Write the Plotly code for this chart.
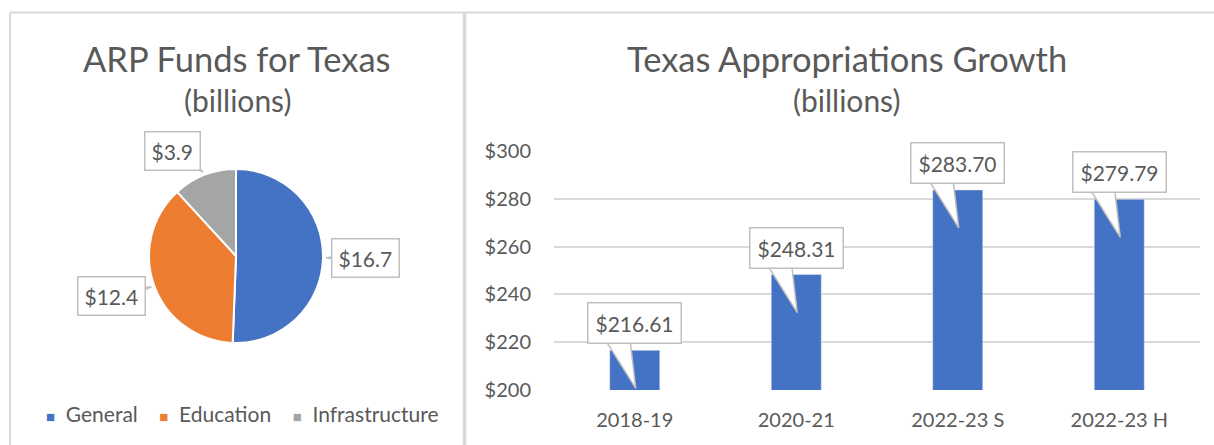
import math
import plotly.graph_objects as go

W, H = 1214, 445

# ---- data ----
pie_labels = ["General", "Education", "Infrastructure"]
pie_values = [16.7, 12.4, 3.9]
pie_text = ["$16.7", "$12.4", "$3.9"]
pie_colors = ["#4472C4", "#ED7D31", "#A5A5A5"]

bar_categories = ["2018-19", "2020-21", "2022-23 S", "2022-23 H"]
bar_values = [216.61, 248.31, 283.70, 279.79]
bar_text = ["$216.61", "$248.31", "$283.70", "$279.79"]
y_ticks = [200, 220, 240, 260, 280, 300]
y_ticktext = ["$200", "$220", "$240", "$260", "$280", "$300"]

FONT = "Lato"
GRAY = "#595959"
BORDER = "#d9d9d9"
CALLOUT = "#bfbfbf"

# pie geometry (pixels)
pcx, pcy, pr = 236, 256, 87

fig = go.Figure()
fig.add_trace(go.Pie(
    labels=pie_labels, values=pie_values, sort=False, direction="clockwise",
    rotation=0, textinfo="none", hoverinfo="label+value",
    marker=dict(colors=pie_colors, line=dict(color="white", width=2)),
    domain=dict(x=[(pcx - pr) / W, (pcx + pr) / W],
                y=[(H - pcy - pr) / H, (H - pcy + pr) / H]),
    showlegend=False,
))
fig.add_trace(go.Bar(
    x=bar_categories, y=bar_values, marker_color="#4472C4", width=0.31,
    showlegend=False, xaxis="x", yaxis="y",
))

annotations = []
shapes = []

def paper_text(text, px, py, size, **kw):
    d = dict(text=text, x=px / W, y=(H - py) / H, xref="paper", yref="paper",
             xanchor="center", yanchor="middle", showarrow=False,
             font=dict(family=FONT, size=size, color=GRAY))
    d.update(kw)
    return d

# titles
annotations += [
    paper_text("ARP Funds for Texas", 237, 58, 34.5),
    paper_text("(billions)", 237, 100, 30),
    paper_text("Texas Appropriations Growth", 847, 58, 34.5),
    paper_text("(billions)", 847, 100, 30),
]

# pie data labels, placed along each slice's mid angle, with callout pointers
total = sum(pie_values)
label_shift = [(0, 0), (-2, 5), (-16, -16)]
cum = 0.0
for v, t, (sx, sy) in zip(pie_values, pie_text, label_shift):
    mid = (cum + v / 2) / total * 2 * math.pi
    cum += v
    R = 130
    dx = R * math.sin(mid) + sx
    dy = R * math.cos(mid) + sy          # upward positive
    annotations.append(paper_text(t, pcx + dx, pcy - dy, 21, bgcolor="white",
                                  bordercolor=CALLOUT, borderwidth=1.5, borderpad=6))
    # pointer: tip on the pie rim, base hidden under the label box
    tx, ty = (pr + 3) * math.sin(mid), (pr + 3) * math.cos(mid)
    ux, uy = dx - tx, dy - ty
    n = math.hypot(ux, uy)
    px_, py_ = -uy / n * 6, ux / n * 6
    path = (f"M {tx:.1f},{ty:.1f} L {dx + px_:.1f},{dy + py_:.1f} "
            f"L {dx - px_:.1f},{dy - py_:.1f} Z")
    shapes.append(dict(type="path", xref="paper", yref="paper", xsizemode="pixel",
                       ysizemode="pixel", xanchor=pcx / W, yanchor=(H - pcy) / H,
                       path=path, fillcolor="white",
                       line=dict(color=CALLOUT, width=1.5), layer="above"))

# pie legend (Excel style: small squares)
def sq(c):
    return f'<span style="color:{c};font-size:15px">■</span>'
legend_text = "&nbsp;&nbsp;&nbsp;&nbsp;".join(
    f"{sq(c)}&nbsp;&nbsp;{lab}" for c, lab in zip(pie_colors, pie_labels))
annotations.append(paper_text(legend_text, 242, 413, 21))

# bar callouts
for i, (v, t) in enumerate(zip(bar_values, bar_text)):
    annotations.append(dict(
        text=t, x=bar_categories[i], y=v, xref="x", yref="y", yshift=27, showarrow=False,
        xanchor="center", yanchor="middle",
        font=dict(family=FONT, size=21, color=GRAY), bgcolor="white",
        bordercolor=CALLOUT, borderwidth=1.5, borderpad=7))
    shapes.append(dict(
        type="path", xref="x", yref="y", xsizemode="pixel", ysizemode="pixel",
        xanchor=i, yanchor=v, path="M -31,13 L 1,-38 L -5,13 Z",
        fillcolor="white", line=dict(color=CALLOUT, width=1.5), layer="above"))

# panel borders
shapes += [
    dict(type="line", xref="paper", yref="paper", x0=10 / W, x1=1, y0=(H - 12.5) / H, y1=(H - 12.5) / H,
         line=dict(color=BORDER, width=2), layer="below"),
    dict(type="line", xref="paper", yref="paper", x0=10 / W, x1=10 / W, y0=0, y1=(H - 12.5) / H,
         line=dict(color=BORDER, width=2), layer="below"),
    dict(type="line", xref="paper", yref="paper", x0=464.5 / W, x1=464.5 / W, y0=0, y1=(H - 12.5) / H,
         line=dict(color=BORDER, width=3.5), layer="below"),
]

fig.update_layout(
    width=W, height=H, margin=dict(l=0, r=0, t=0, b=0, autoexpand=False),
    paper_bgcolor="white", plot_bgcolor="white",
    font=dict(family=FONT, color=GRAY),
    showlegend=False,
    xaxis=dict(domain=[554 / W, 1200 / W], showgrid=False, showline=False, ticks="",
               tickfont=dict(family=FONT, size=20, color=GRAY), ticklabelstandoff=16,
               fixedrange=True, automargin=False),
    yaxis=dict(domain=[(H - 390) / H, (H - 151) / H], range=[200, 300],
               tickvals=y_ticks, ticktext=y_ticktext, showgrid=True, gridcolor=BORDER,
               gridwidth=1.5, zeroline=False, showline=False, ticks="",
               tickfont=dict(family=FONT, size=20, color=GRAY), ticklabelstandoff=22,
               fixedrange=True, automargin=False),
    annotations=annotations, shapes=shapes,
)

fig.write_html("out.html")
